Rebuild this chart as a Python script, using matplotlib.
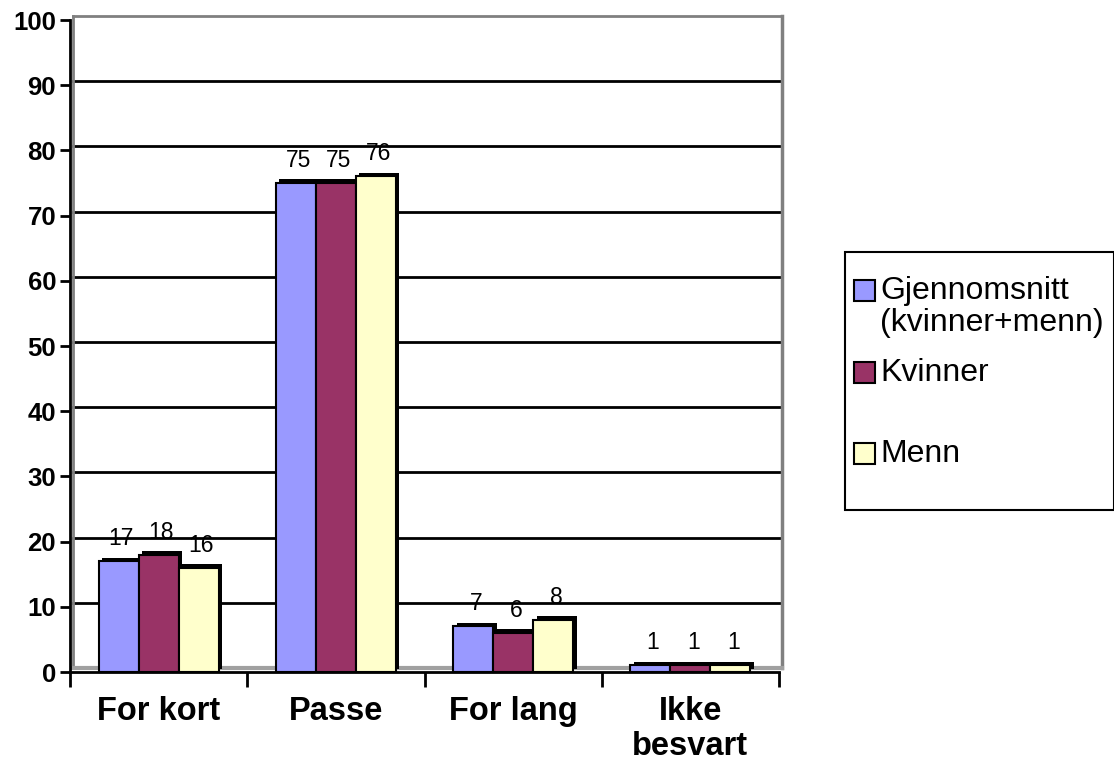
import matplotlib.pyplot as plt
import matplotlib.transforms as mtransforms
from matplotlib.patches import Rectangle
import numpy as np

plt.rcParams['font.family'] = ['Liberation Sans', 'DejaVu Sans']

kategorier = ['For kort', 'Passe', 'For lang', 'Ikke\nbesvart']
serier = ['Gjennomsnitt\n(kvinner+menn)', 'Kvinner', 'Menn']
gjennomsnitt = [17, 75, 7, 1]
kvinner = [18, 75, 6, 1]
menn = [16, 76, 8, 1]
farger = ['#9999FF', '#993366', '#FFFFCC']

W, H = 1114, 765
fig = plt.figure(figsize=(W / 100, H / 100), dpi=100)
ax = fig.add_axes([70 / W, 1 - 672 / H, (779 - 70) / W, (672 - 20) / H])
ax.set_xlim(-0.5, 3.5)
ax.set_ylim(0, 100)

# 3d-ish depth offset (pixels)
dybde = mtransforms.ScaledTranslation(3 / 100, 4 / 100, fig.dpi_scale_trans)
skygge = mtransforms.ScaledTranslation(3.5 / 100, 3.5 / 100, fig.dpi_scale_trans)

# back wall and gridlines
for v in range(10, 101, 10):
    farge = '#808080' if v == 100 else 'black'
    ax.plot([-0.5, 3.5], [v, v], color=farge, lw=2, transform=ax.transData + dybde,
            clip_on=False, zorder=1)
ax.plot([-0.5, -0.5], [0, 100], color='#808080', lw=2, transform=ax.transData + dybde,
        clip_on=False, zorder=1)
ax.plot([3.5, 3.5], [0, 100], color='#808080', lw=2.5, transform=ax.transData + dybde,
        clip_on=False, zorder=1)
ax.plot([-0.5, 3.5], [0, 0], color='#A0A0A0', lw=3, transform=ax.transData + dybde,
        clip_on=False, zorder=1)

x = np.arange(len(kategorier))
bredde = 0.226
for i, (verdier, farge) in enumerate(zip([gjennomsnitt, kvinner, menn], farger)):
    pos = x + (i - 1) * bredde
    ax.bar(pos, verdier, bredde, color='black', transform=ax.transData + skygge,
           zorder=2, clip_on=False)
    ax.bar(pos, verdier, bredde, color=farge, edgecolor='black', linewidth=1.5,
           zorder=3, clip_on=False)
    for p, v in zip(pos, verdier):
        ax.annotate(str(v), (p, v), xytext=(2, 8), textcoords='offset points',
                    ha='center', va='bottom', fontsize=16.5, zorder=4)

for s in ['top', 'right']:
    ax.spines[s].set_visible(False)
ax.spines['left'].set_linewidth(2)
ax.spines['bottom'].set_linewidth(2)
ax.spines['bottom'].set_zorder(5)

ax.set_yticks(range(0, 101, 10))
ax.tick_params(axis='y', length=7, width=2, labelsize=18.5, pad=3)
for t in ax.get_yticklabels():
    t.set_fontweight('bold')

ax.set_xticks([-0.5, 0.5, 1.5, 2.5, 3.5])
ax.set_xticklabels([])
ax.tick_params(axis='x', which='major', length=11, width=2, direction='out')
ax.set_xticks(x, kategorier, minor=True)
ax.tick_params(axis='x', which='minor', length=0, pad=17, labelsize=23.5)
for t in ax.get_xticklabels(minor=True):
    t.set_fontweight('bold')
    t.set_linespacing(1.2)


# legend drawn by hand in figure pixels
def px(xp, yp):
    return xp / W, 1 - yp / H


fig.patches.append(Rectangle(px(845, 510), (1114 - 845) / W, (510 - 252) / H,
                             transform=fig.transFigure, fill=False, ec='black', lw=1.5))
leg_y = [290, 372, 453]
for navn, farge, yy in zip(serier, farger, leg_y):
    fig.patches.append(Rectangle(px(854, yy + 11), 21 / W, 21 / H, transform=fig.transFigure,
                                 fc=farge, ec='black', lw=1.5))
    fig.text(*px(880, yy - 14), navn, fontsize=23, va='top', ha='left', linespacing=1.1)

fig.savefig('out.png', dpi=100)
